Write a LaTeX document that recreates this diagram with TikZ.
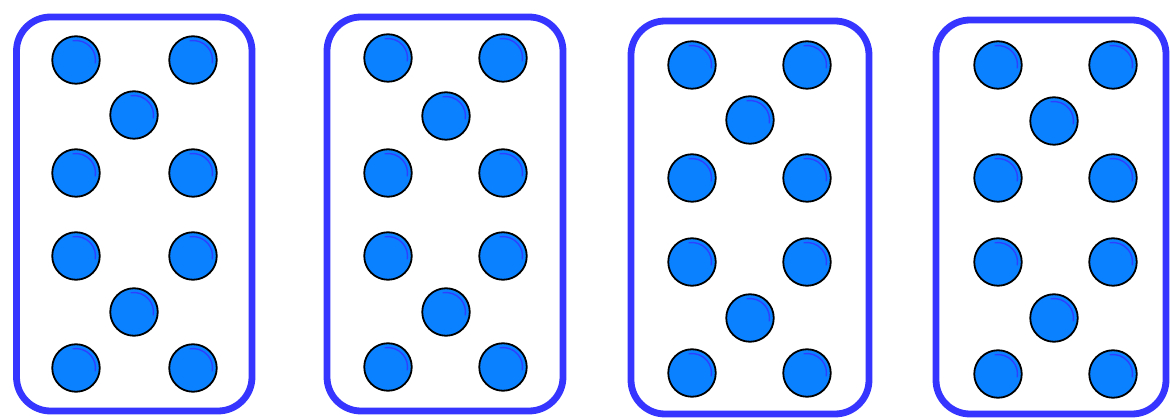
\documentclass[tikz,border=0pt]{standalone}
\definecolor{cardblue}{HTML}{3535FF}
\definecolor{dotblue}{HTML}{0A82FF}
\definecolor{shine}{HTML}{2E40FF}
\begin{document}
\begin{tikzpicture}[x=1pt,y=-1pt,
  card/.style={draw=cardblue,line width=6.8pt,rounded corners=34pt,rectangle,inner sep=0pt,outer sep=0pt},
  pip/.style={circle,draw=black,fill=dotblue,line width=1.8pt,minimum size=47.5pt,inner sep=0pt}]
\useasboundingbox (0,0) rectangle (1171,419);
% cards
\node[card,minimum width=235.5pt,minimum height=394pt] (c1) at (134.25,214) {};
\node[card,minimum width=236pt,minimum height=394pt] (c2) at (445,214) {};
\node[card,minimum width=238pt,minimum height=393pt] (c3) at (750,217.5) {};
\node[card,minimum width=230pt,minimum height=394pt] (c4) at (1051,217) {};
% pips
\foreach \k/\a/\m/\b/\ya/\yb/\yc/\yd/\ye/\yf in {
  1/76/134/193/60/115/173/256/312/368,
  2/388/446/503/58/116/173/256/312/367,
  3/692/750/807/65/120/178/262/318/373,
  4/998/1054/1113/65/121/178/262/318/374}{
  \node[pip] (p\k-1) at (\a,\ya) {};
  \node[pip] (p\k-2) at (\b,\ya) {};
  \node[pip] (p\k-3) at (\m,\yb) {};
  \node[pip] (p\k-4) at (\a,\yc) {};
  \node[pip] (p\k-5) at (\b,\yc) {};
  \node[pip] (p\k-6) at (\a,\yd) {};
  \node[pip] (p\k-7) at (\b,\yd) {};
  \node[pip] (p\k-8) at (\m,\ye) {};
  \node[pip] (p\k-9) at (\a,\yf) {};
  \node[pip] (p\k-10) at (\b,\yf) {};
  \foreach \i in {1,...,10}{
    \draw[shine,line width=1.4pt] ([shift={(-100:19.5)}]p\k-\i.center) arc (-100:10:19.5);
  }
}
\end{tikzpicture}
\end{document}
